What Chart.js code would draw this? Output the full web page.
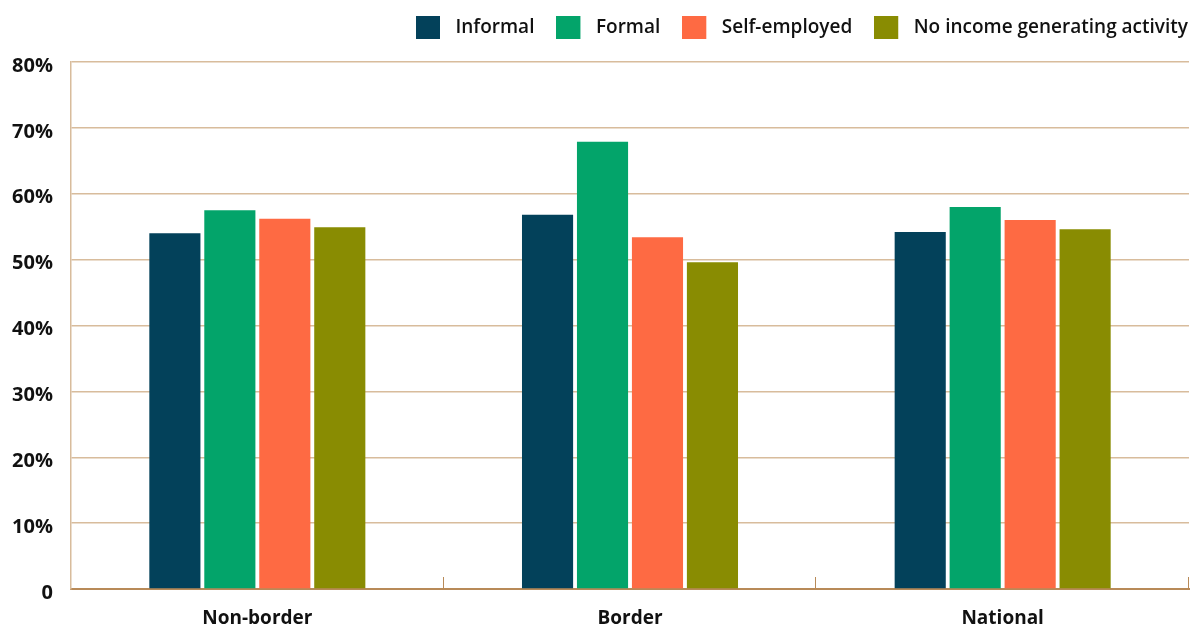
<!DOCTYPE html>
<html>
<head>
<meta charset="utf-8">
<script src="https://cdn.jsdelivr.net/npm/chart.js@4/dist/chart.umd.min.js"></script>
<style>
  html, body { margin: 0; padding: 0; background: #fff; }
  #wrap { width: 1192px; height: 624px; }
</style>
</head>
<body>
<div id="wrap"><canvas id="chart"></canvas></div>
<script>
// Data
const regions = ['Non-border', 'Border', 'National'];
const seriesNames = ['Informal', 'Formal', 'Self-employed', 'No income generating activity'];
const informal = [54.0, 56.8, 54.2];
const formal = [57.5, 67.9, 58.0];
const selfEmployed = [56.2, 53.4, 56.0];
const noIncome = [54.9, 49.6, 54.6];
const yTicks = [0, 10, 20, 30, 40, 50, 60, 70, 80];

const colors = ['#03415a', '#03a46a', '#fe6a43', '#898c02'];
const gridColor = '#d8bc9c';
const axisColor = '#b88a58';
const fontFamily = '"Open Sans", "Noto Sans", sans-serif';

// legend swatch: 24x23 box with some blank room after it, so the text sits further right
const swatch = (color) => {
  const cv = document.createElement('canvas');
  cv.width = 30; cv.height = 23;
  const g = cv.getContext('2d');
  g.fillStyle = color;
  g.fillRect(0, 0, 24, 23);
  return cv;
};

// small upward ticks at the category boundaries
const boundaryTicks = {
  id: 'boundaryTicks',
  afterDraw(chart) {
    const x = chart.scales.x;
    const y = chart.scales.y;
    const c = chart.ctx;
    const bottom = y.getPixelForValue(0);
    const step = (x.right - x.left) / regions.length;
    c.save();
    c.strokeStyle = axisColor;
    c.lineWidth = 1;
    for (let i = 1; i <= regions.length; i++) {
      const px = Math.round(x.left + step * i) - 0.5;
      c.beginPath();
      c.moveTo(px, bottom);
      c.lineTo(px, bottom - 12);
      c.stroke();
    }
    c.restore();
  }
};

// nudge the legend into the top-right corner
const legendShift = {
  id: 'legendShift',
  afterLayout(chart) {
    const l = chart.legend;
    l.left += 21; l.right += 21;
    l.top -= 15; l.bottom -= 15;
  }
};

const ctx = document.getElementById('chart').getContext('2d');
new Chart(ctx, {
  type: 'bar',
  data: {
    labels: regions,
    datasets: [informal, formal, selfEmployed, noIncome].map((d, i) => ({
      label: seriesNames[i],
      data: d,
      backgroundColor: colors[i],
      pointStyle: swatch(colors[i]),
      barPercentage: 0.93,
      categoryPercentage: 0.59
    }))
  },
  options: {
    responsive: true,
    maintainAspectRatio: false,
    animation: false,
    layout: { padding: { left: 0, right: 3, top: 11, bottom: 0 } },
    plugins: {
      legend: {
        position: 'top',
        align: 'end',
        labels: {
          usePointStyle: true,
          pointStyleWidth: 30,
          boxHeight: 23,
          padding: 22,
          color: '#111',
          font: { family: fontFamily, size: 19, weight: '600' }
        }
      },
      tooltip: { enabled: false }
    },
    scales: {
      x: {
        grid: { display: false },
        border: { color: axisColor, width: 2 },
        ticks: { color: '#111', padding: 10, font: { family: fontFamily, size: 19, weight: '700' } },
        afterFit: (s) => { s.height = 35; }
      },
      y: {
        min: 0,
        max: 80,
        afterBuildTicks: (s) => { s.ticks = yTicks.map(v => ({ value: v })); },
        grid: { color: gridColor, lineWidth: 1.5, drawTicks: false },
        border: { color: gridColor, width: 1.5 },
        ticks: {
          color: '#111',
          padding: 18,
          labelOffset: 4,
          font: { family: fontFamily, size: 20, weight: '700' },
          callback: (v) => v === 0 ? '0' : v + '%'
        },
        afterFit: (s) => { s.width = 71; }
      }
    }
  },
  plugins: [boundaryTicks, legendShift]
});
</script>
</body>
</html>
